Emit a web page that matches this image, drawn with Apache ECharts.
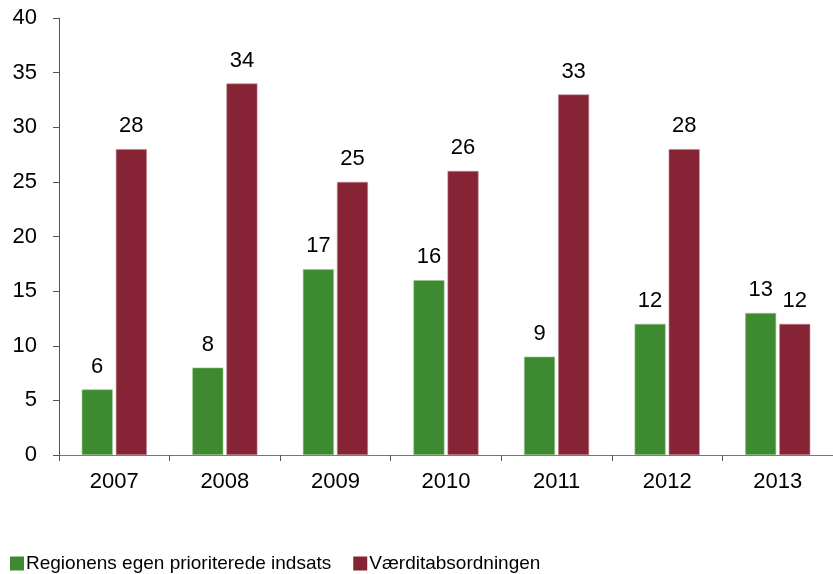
<!DOCTYPE html>
<html>
<head>
<meta charset="utf-8">
<script src="https://cdn.jsdelivr.net/npm/echarts@6/dist/echarts.min.js"></script>
<style>
  html, body { margin: 0; padding: 0; background: #fff; }
  #main { width: 833px; height: 574px; }
</style>
</head>
<body>
<div id="main"></div>
<script>
// Data
var years = ['2007', '2008', '2009', '2010', '2011', '2012', '2013'];
var regionValues = [6, 8, 17, 16, 9, 12, 13];
var vaerdiValues = [28, 34, 25, 26, 33, 28, 12];
var seriesNames = ['Regionens egen prioriterede indsats', 'Værditabsordningen'];

var chart = echarts.init(document.getElementById('main'));

var labelStyle = {
  show: true,
  position: 'top',
  distance: 12,
  fontFamily: 'Liberation Sans',
  fontSize: 22,
  color: '#000'
};

var option = {
  animation: false,
  legend: {
    left: 5,
    top: 549,
    itemWidth: 14,
    itemHeight: 14,
    itemGap: 22,
    icon: 'rect',
    itemStyle: { borderWidth: 0 },
    textStyle: { fontFamily: 'Liberation Sans', fontSize: 19, color: '#000', padding: [0, 0, 0, -3] },
    data: seriesNames
  },
  grid: { left: 59, right: -7, top: 18, bottom: 119, containLabel: false },
  xAxis: {
    type: 'category',
    data: years,
    axisLine: { lineStyle: { color: '#777', width: 1 } },
    axisTick: { show: true, length: 6, alignWithLabel: false, lineStyle: { color: '#555' } },
    axisLabel: { fontFamily: 'Liberation Sans', fontSize: 22, color: '#000', margin: 16 }
  },
  yAxis: {
    type: 'value',
    min: 0,
    max: 40,
    interval: 5,
    splitLine: { show: false },
    axisLine: { show: true, lineStyle: { color: '#555', width: 1 } },
    axisTick: { show: true, length: 6, lineStyle: { color: '#555' } },
    axisLabel: { fontFamily: 'Liberation Sans', fontSize: 22, color: '#000', margin: 22 }
  },
  series: [
    {
      name: seriesNames[0],
      type: 'bar',
      data: regionValues,
      barWidth: 31,
      barGap: '10%',
      itemStyle: { color: '#3d8a31', borderColor: '#9cc492', borderWidth: 0.6 },
      label: labelStyle
    },
    {
      name: seriesNames[1],
      type: 'bar',
      data: vaerdiValues,
      barWidth: 31,
      itemStyle: { color: '#862435', borderColor: '#c08a94', borderWidth: 0.6 },
      label: labelStyle
    }
  ]
};

chart.setOption(option);
</script>
</body>
</html>
